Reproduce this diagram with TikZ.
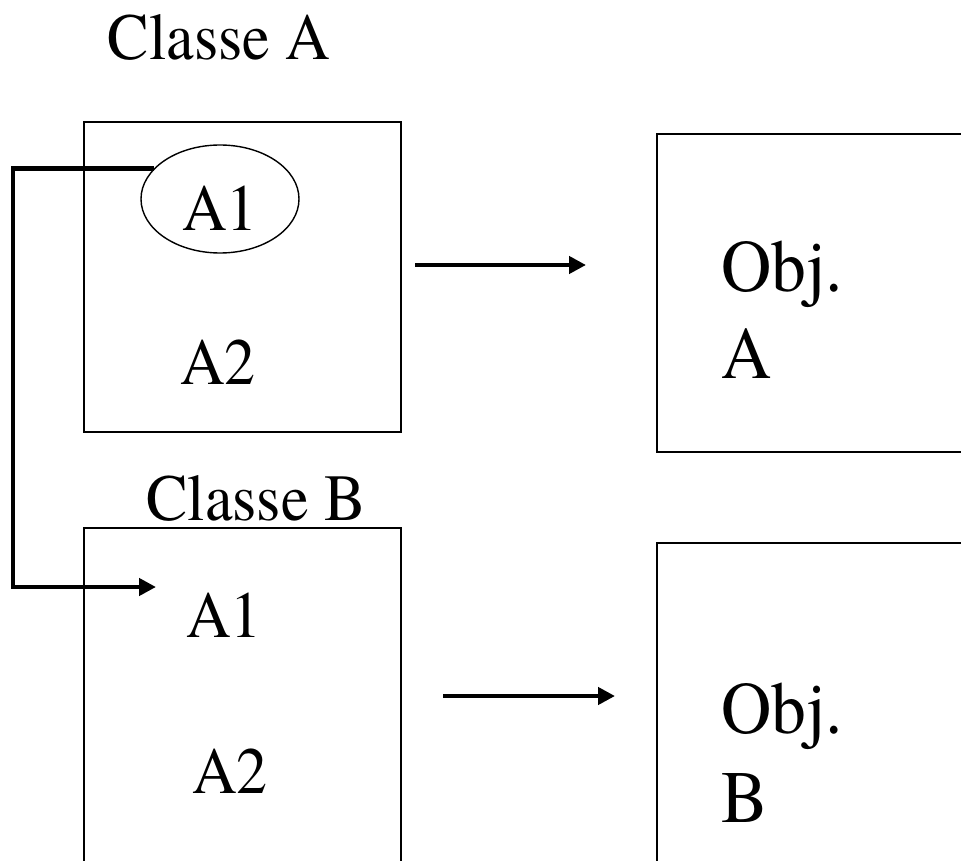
\documentclass[tikz,border=0pt]{standalone}
\usepackage{fontspec}
\setmainfont{TeX Gyre Termes}[FakeStretch=0.94]
\usepackage{tikz}
\usetikzlibrary{positioning, shapes.geometric, arrows.meta}
\tikzset{
    base/.style={
        font=\fontsize{33}{39}\selectfont,
        inner sep=0pt,
        text=black
    },
    bigtext/.style={
        base,
        font=\fontsize{37}{44}\selectfont
    },
    classbox/.style={
        rectangle,
        draw=black,
        line width=0.7pt,
        minimum width=158.5pt,
        inner sep=0pt
    },
    objbox/.style={
        rectangle,
        draw=black,
        line width=1pt,
        minimum width=176.5pt,
        inner sep=0pt
    },
    attr/.style={
        ellipse,
        draw=black,
        line width=0.7pt,
        minimum width=79pt,
        minimum height=54pt,
        inner sep=0pt
    },
    flow/.style={
        -{Triangle[length=8.5pt, width=8.5pt]},
        line width=2.3pt,
        color=black
    }
}

\begin{document}
\begin{tikzpicture}[x=0.5pt, y=-0.5pt]
  \useasboundingbox (0,0) rectangle (961,860);
  \clip (0,0) rectangle (961,860);

  % classes
  \node[base, anchor=base] (titleA) at (219,60) {Classe A};
  \node[classbox, minimum height=155pt] (classA) at (242.5,277) {};
  \node[attr] (a1ell) at (220,199) {};
  \node[base, anchor=base] (a1A) at (220,231) {A1};
  \node[base, anchor=base] (a2A) at (218,384) {A2};

  \node[base, anchor=base] (titleB) at (256,520) {Classe B};
  \node[classbox, minimum height=196pt] (classB) at (242.5,724) {};
  \node[base, anchor=base] (a1B) at (224,637) {A1};
  \node[base, anchor=base] (a2B) at (230,793) {A2};

  % objects
  \node[objbox, minimum height=159pt] (objA) at (833.5,293) {};
  \node[bigtext, anchor=base west] (objAt) at (721,292) {Obj.};
  \node[bigtext, anchor=base west] (objAn) at (721,379) {A};

  \node[objbox, minimum height=188.5pt] (objB) at (833.5,731.5) {};
  \node[bigtext, anchor=base west] (objBt) at (721,733) {Obj.};
  \node[bigtext, anchor=base west] (objBn) at (721,822) {B};

  % connectors
  \coordinate (bend) at (13,587);
  \coordinate (inB) at (156,587);
  \draw[flow] (a1ell.155) -| (bend) -- (inB);

  \coordinate (outA) at (415,265);
  \coordinate (toA) at (586,265);
  \coordinate (outB) at (443,696);
  \coordinate (toB) at (615,696);
  \draw[flow] (outA) -- (toA);
  \draw[flow] (outB) -- (toB);
\end{tikzpicture}
\end{document}
